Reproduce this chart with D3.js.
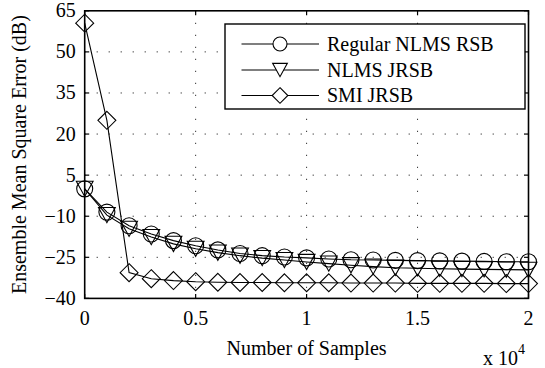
<!DOCTYPE html>
<html>
<head>
<meta charset="utf-8">
<script src="https://cdn.jsdelivr.net/npm/d3@7"></script>
</head>
<body style="margin:0">
<svg id="chart" width="545" height="368">
  <style>text { font-family: "Liberation Serif" !important; }</style>
</svg>
<script>
// Sample index (number of samples) at which each curve is evaluated
const samples = [0, 1000, 2000, 3000, 4000, 5000, 6000, 7000, 8000, 9000, 10000,
                 11000, 12000, 13000, 14000, 15000, 16000, 17000, 18000, 19000, 20000];

// Ensemble MSE in dB for each algorithm
const regularNlmsRsb = [0, -8.5, -13.5, -16.5, -18.9, -20.8, -22.3, -23.6, -24.4, -24.9, -25.2,
                        -25.6, -25.9, -26.0, -26.1, -26.2, -26.3, -26.4, -26.5, -26.6, -26.6];
const nlmsJrsb       = [0, -9.6, -14.6, -17.6, -20.1, -21.9, -23.3, -24.4, -25.3, -26.0, -26.7,
                        -27.3, -27.9, -28.4, -28.8, -29.0, -29.2, -29.3, -29.4, -29.5, -29.6];
const smiJrsb        = [60.5, 25, -30.6, -32.8, -33.5, -33.9, -34.1, -34.2, -34.2, -34.3, -34.3,
                        -34.3, -34.4, -34.4, -34.4, -34.5, -34.5, -34.5, -34.5, -34.6, -34.6];

const seriesNames = ["Regular NLMS RSB", "NLMS JRSB", "SMI JRSB"];
const markerTypes = ["circle", "triangleDown", "diamond"];

const yTicks = [65, 50, 35, 20, 5, -10, -25, -40];
const xTicks = [0, 5000, 10000, 15000, 20000];
const xTickLabels = ["0", "0.5", "1", "1.5", "2"];

const svg = d3.select("#chart");
const plot = { left: 84.7, right: 528.5, top: 10.8, bottom: 298.4 };

const x = d3.scaleLinear().domain([0, 20000]).range([plot.left, plot.right]);
const y = d3.scaleLinear().domain([-40, 65]).range([plot.bottom, plot.top]);

const fontSize = 20;
function addText(parent) {
  return parent.append("text")
    .style("font-family", '"Liberation Serif"')
    .attr("font-size", fontSize);
}

// Dotted grid
const grid = svg.append("g");
grid.selectAll("line.gx").data(xTicks.slice(1, -1)).enter().append("line")
  .attr("x1", d => x(d)).attr("x2", d => x(d))
  .attr("y1", plot.top).attr("y2", plot.bottom)
  .attr("stroke", "#000").attr("stroke-width", 1).attr("stroke-dasharray", "1,11");
grid.selectAll("line.gy").data(yTicks.slice(1, -1)).enter().append("line")
  .attr("y1", d => y(d)).attr("y2", d => y(d))
  .attr("x1", plot.left).attr("x2", plot.right)
  .attr("stroke", "#000").attr("stroke-width", 1).attr("stroke-dasharray", "1,11");

// Marker shapes drawn around (0,0)
function markerPath(type, s) {
  if (type === "circle") {
    return `M${-s},0A${s},${s} 0 1,0 ${s},0A${s},${s} 0 1,0 ${-s},0Z`;
  } else if (type === "triangleDown") {
    const w = s * 1.05, top = -s * 0.95, tip = s * 0.95;
    return `M${-w},${top}L${w},${top}L0,${tip}Z`;
  } else {
    const d = s * 1.12;
    return `M0,${-d}L${d},0L0,${d}L${-d},0Z`;
  }
}

const allSeries = [regularNlmsRsb, nlmsJrsb, smiJrsb];
const line = d3.line().x((d, i) => x(samples[i])).y(d => y(d));

allSeries.forEach((vals, k) => {
  const g = svg.append("g");
  g.append("path").datum(vals).attr("d", line)
    .attr("fill", "none").attr("stroke", "#000").attr("stroke-width", 1.1);
  g.selectAll("path.m").data(vals).enter().append("path")
    .attr("transform", (d, i) => `translate(${x(samples[i])},${y(d)})`)
    .attr("d", markerPath(markerTypes[k], 8))
    .attr("fill", "none").attr("stroke", "#000").attr("stroke-width", 1.1);
});

// Axes box with inward ticks
const axes = svg.append("g");
axes.append("rect")
  .attr("x", plot.left).attr("y", plot.top)
  .attr("width", plot.right - plot.left).attr("height", plot.bottom - plot.top)
  .attr("fill", "none").attr("stroke", "#000").attr("stroke-width", 1.6);

const tickLen = 4.5;
xTicks.forEach(t => {
  axes.append("line").attr("x1", x(t)).attr("x2", x(t))
    .attr("y1", plot.bottom).attr("y2", plot.bottom - tickLen).attr("stroke", "#000").attr("stroke-width", 1.2);
  axes.append("line").attr("x1", x(t)).attr("x2", x(t))
    .attr("y1", plot.top).attr("y2", plot.top + tickLen).attr("stroke", "#000").attr("stroke-width", 1.2);
});
yTicks.forEach(t => {
  axes.append("line").attr("y1", y(t)).attr("y2", y(t))
    .attr("x1", plot.left).attr("x2", plot.left + tickLen).attr("stroke", "#000").attr("stroke-width", 1.2);
  axes.append("line").attr("y1", y(t)).attr("y2", y(t))
    .attr("x1", plot.right).attr("x2", plot.right - tickLen).attr("stroke", "#000").attr("stroke-width", 1.2);
});

// Tick labels
yTicks.forEach(t => {
  addText(axes).attr("x", plot.left - 9).attr("y", y(t) + 6.5)
    .attr("text-anchor", "end")
    .text(t < 0 ? "\u2212" + Math.abs(t) : String(t));
});
xTicks.forEach((t, i) => {
  addText(axes).attr("x", x(t)).attr("y", 325)
    .attr("text-anchor", "middle")
    .text(xTickLabels[i]);
});

// Axis titles
addText(svg)
  .attr("x", (plot.left + plot.right) / 2).attr("y", 355)
  .attr("text-anchor", "middle")
  .text("Number of Samples");

addText(svg)
  .attr("transform", `translate(26,${(plot.top + plot.bottom) / 2}) rotate(-90)`)
  .attr("text-anchor", "middle")
  .text("Ensemble Mean Square Error (dB)");

// Exponent note for the x axis
const expo = addText(svg).attr("x", 483).attr("y", 365);
expo.append("tspan").text("x 10");
expo.append("tspan").attr("dy", -11).attr("font-size", 14).text("4");

// Legend
const legend = svg.append("g");
const lg = { x: 225, y: 24, w: 300, h: 85 };
legend.append("rect").attr("x", lg.x).attr("y", lg.y).attr("width", lg.w).attr("height", lg.h)
  .attr("fill", "#fff").attr("stroke", "#000").attr("stroke-width", 1.4);
const rowY = [44, 70, 95.5];
seriesNames.forEach((name, k) => {
  legend.append("line").attr("x1", 241.5).attr("x2", 319)
    .attr("y1", rowY[k]).attr("y2", rowY[k]).attr("stroke", "#000").attr("stroke-width", 1.1);
  legend.append("path").attr("transform", `translate(280,${rowY[k]})`)
    .attr("d", markerPath(markerTypes[k], 7))
    .attr("fill", "#fff").attr("stroke", "#000").attr("stroke-width", 1.1);
  addText(legend).attr("x", 327).attr("y", rowY[k] + 6.5)
    .text(name);
});
</script>
</body>
</html>
